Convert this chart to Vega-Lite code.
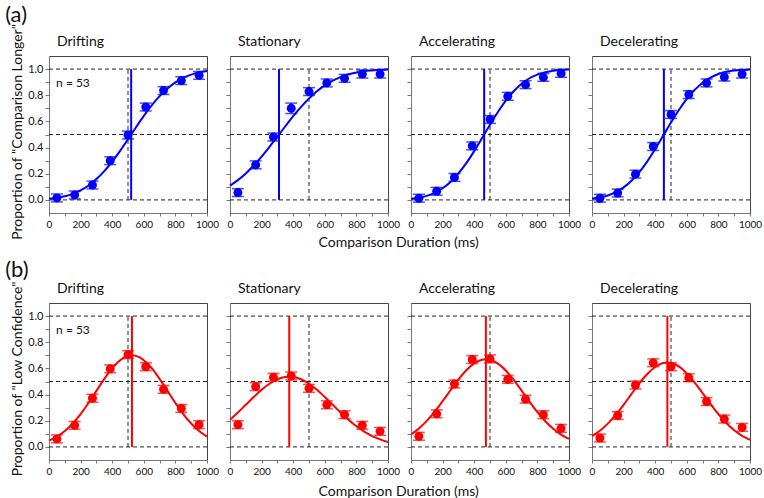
{
"$schema":"https://vega.github.io/schema/vega-lite/v6.json",
"padding":{"left":5,"top":4,"right":0,"bottom":0},
"spacing":9,
"datasets":{
"hl":[{"x":0,"x2":1000,"y":0},{"x":0,"x2":1000,"y":0.5},{"x":0,"x2":1000,"y":1}],
"vl":[{"x":500,"y":0,"y2":1}],
"note":[{"x":45,"y":0.89,"t":"n = 53"}],
"pse":[{"p":"a1","x":520,"y":0,"y2":1},{"p":"a2","x":310,"y":0,"y2":1},{"p":"a3","x":463,"y":0,"y2":1},{"p":"a4","x":455,"y":0,"y2":1},{"p":"b1","x":525,"y":0,"y2":1},{"p":"b2","x":375,"y":0,"y2":1},{"p":"b3","x":474,"y":0,"y2":1},{"p":"b4","x":477,"y":0,"y2":1}],
"pts":[
{"p":"a1","x":50,"y":0.015,"lo":-0.015,"hi":0.045},{"p":"a1","x":162.5,"y":0.038,"lo":0.008,"hi":0.068},{"p":"a1","x":275,"y":0.114,"lo":0.084,"hi":0.144},{"p":"a1","x":387.5,"y":0.3,"lo":0.27,"hi":0.33},{"p":"a1","x":500,"y":0.496,"lo":0.466,"hi":0.526},{"p":"a1","x":612.5,"y":0.71,"lo":0.68,"hi":0.74},{"p":"a1","x":725,"y":0.836,"lo":0.806,"hi":0.866},{"p":"a1","x":837.5,"y":0.912,"lo":0.882,"hi":0.942},{"p":"a1","x":950,"y":0.952,"lo":0.922,"hi":0.982},
{"p":"a2","x":50,"y":0.056,"lo":0.026,"hi":0.086},{"p":"a2","x":162.5,"y":0.268,"lo":0.238,"hi":0.298},{"p":"a2","x":275,"y":0.481,"lo":0.451,"hi":0.511},{"p":"a2","x":387.5,"y":0.7,"lo":0.66,"hi":0.74},{"p":"a2","x":500,"y":0.828,"lo":0.798,"hi":0.858},{"p":"a2","x":612.5,"y":0.894,"lo":0.864,"hi":0.924},{"p":"a2","x":725,"y":0.929,"lo":0.899,"hi":0.959},{"p":"a2","x":837.5,"y":0.962,"lo":0.932,"hi":0.992},{"p":"a2","x":950,"y":0.962,"lo":0.932,"hi":0.992},
{"p":"a3","x":50,"y":0.013,"lo":-0.017,"hi":0.043},{"p":"a3","x":162.5,"y":0.066,"lo":0.036,"hi":0.096},{"p":"a3","x":275,"y":0.172,"lo":0.142,"hi":0.202},{"p":"a3","x":387.5,"y":0.413,"lo":0.383,"hi":0.443},{"p":"a3","x":500,"y":0.615,"lo":0.585,"hi":0.645},{"p":"a3","x":612.5,"y":0.792,"lo":0.762,"hi":0.822},{"p":"a3","x":725,"y":0.881,"lo":0.851,"hi":0.911},{"p":"a3","x":837.5,"y":0.937,"lo":0.907,"hi":0.967},{"p":"a3","x":950,"y":0.967,"lo":0.937,"hi":0.997},
{"p":"a4","x":50,"y":0.013,"lo":-0.017,"hi":0.043},{"p":"a4","x":162.5,"y":0.053,"lo":0.023,"hi":0.083},{"p":"a4","x":275,"y":0.197,"lo":0.167,"hi":0.227},{"p":"a4","x":387.5,"y":0.408,"lo":0.378,"hi":0.438},{"p":"a4","x":500,"y":0.653,"lo":0.623,"hi":0.683},{"p":"a4","x":612.5,"y":0.805,"lo":0.775,"hi":0.835},{"p":"a4","x":725,"y":0.894,"lo":0.864,"hi":0.924},{"p":"a4","x":837.5,"y":0.939,"lo":0.909,"hi":0.969},{"p":"a4","x":950,"y":0.962,"lo":0.932,"hi":0.992},
{"p":"b1","x":50,"y":0.061,"lo":0.031,"hi":0.091},{"p":"b1","x":162.5,"y":0.165,"lo":0.135,"hi":0.195},{"p":"b1","x":275,"y":0.372,"lo":0.342,"hi":0.402},{"p":"b1","x":387.5,"y":0.597,"lo":0.567,"hi":0.627},{"p":"b1","x":500,"y":0.706,"lo":0.676,"hi":0.736},{"p":"b1","x":612.5,"y":0.613,"lo":0.583,"hi":0.643},{"p":"b1","x":725,"y":0.44,"lo":0.41,"hi":0.47},{"p":"b1","x":837.5,"y":0.294,"lo":0.264,"hi":0.324},{"p":"b1","x":950,"y":0.17,"lo":0.14,"hi":0.2},
{"p":"b2","x":50,"y":0.17,"lo":0.14,"hi":0.2},{"p":"b2","x":162.5,"y":0.461,"lo":0.431,"hi":0.491},{"p":"b2","x":275,"y":0.532,"lo":0.502,"hi":0.562},{"p":"b2","x":387.5,"y":0.542,"lo":0.512,"hi":0.572},{"p":"b2","x":500,"y":0.448,"lo":0.418,"hi":0.478},{"p":"b2","x":612.5,"y":0.322,"lo":0.292,"hi":0.352},{"p":"b2","x":725,"y":0.246,"lo":0.216,"hi":0.276},{"p":"b2","x":837.5,"y":0.165,"lo":0.135,"hi":0.195},{"p":"b2","x":950,"y":0.119,"lo":0.089,"hi":0.149},
{"p":"b3","x":50,"y":0.081,"lo":0.051,"hi":0.111},{"p":"b3","x":162.5,"y":0.253,"lo":0.223,"hi":0.283},{"p":"b3","x":275,"y":0.481,"lo":0.451,"hi":0.511},{"p":"b3","x":387.5,"y":0.668,"lo":0.638,"hi":0.698},{"p":"b3","x":500,"y":0.673,"lo":0.643,"hi":0.703},{"p":"b3","x":612.5,"y":0.516,"lo":0.486,"hi":0.546},{"p":"b3","x":725,"y":0.365,"lo":0.335,"hi":0.395},{"p":"b3","x":837.5,"y":0.246,"lo":0.216,"hi":0.276},{"p":"b3","x":950,"y":0.142,"lo":0.112,"hi":0.172},
{"p":"b4","x":50,"y":0.068,"lo":0.038,"hi":0.098},{"p":"b4","x":162.5,"y":0.24,"lo":0.21,"hi":0.27},{"p":"b4","x":275,"y":0.473,"lo":0.443,"hi":0.503},{"p":"b4","x":387.5,"y":0.643,"lo":0.613,"hi":0.673},{"p":"b4","x":500,"y":0.613,"lo":0.583,"hi":0.643},{"p":"b4","x":612.5,"y":0.529,"lo":0.499,"hi":0.559},{"p":"b4","x":725,"y":0.347,"lo":0.317,"hi":0.377},{"p":"b4","x":837.5,"y":0.213,"lo":0.183,"hi":0.243},{"p":"b4","x":950,"y":0.149,"lo":0.119,"hi":0.179}
],
"curve":[
{"p":"a1","x":0,"y":0.009},{"p":"a1","x":50,"y":0.016},{"p":"a1","x":100,"y":0.028},{"p":"a1","x":150,"y":0.046},{"p":"a1","x":200,"y":0.073},{"p":"a1","x":250,"y":0.11},{"p":"a1","x":300,"y":0.159},{"p":"a1","x":350,"y":0.22},{"p":"a1","x":400,"y":0.293},{"p":"a1","x":450,"y":0.375},{"p":"a1","x":500,"y":0.464},{"p":"a1","x":550,"y":0.554},{"p":"a1","x":600,"y":0.642},{"p":"a1","x":650,"y":0.723},{"p":"a1","x":700,"y":0.793},{"p":"a1","x":750,"y":0.852},{"p":"a1","x":800,"y":0.899},{"p":"a1","x":850,"y":0.933},{"p":"a1","x":900,"y":0.958},{"p":"a1","x":950,"y":0.975},{"p":"a1","x":1000,"y":0.985},
{"p":"a2","x":0,"y":0.109},{"p":"a2","x":50,"y":0.151},{"p":"a2","x":100,"y":0.202},{"p":"a2","x":150,"y":0.263},{"p":"a2","x":200,"y":0.331},{"p":"a2","x":250,"y":0.406},{"p":"a2","x":300,"y":0.484},{"p":"a2","x":350,"y":0.563},{"p":"a2","x":400,"y":0.64},{"p":"a2","x":450,"y":0.711},{"p":"a2","x":500,"y":0.775},{"p":"a2","x":550,"y":0.83},{"p":"a2","x":600,"y":0.875},{"p":"a2","x":650,"y":0.911},{"p":"a2","x":700,"y":0.939},{"p":"a2","x":750,"y":0.96},{"p":"a2","x":800,"y":0.974},{"p":"a2","x":850,"y":0.984},{"p":"a2","x":900,"y":0.99},{"p":"a2","x":950,"y":0.995},{"p":"a2","x":1000,"y":0.997},
{"p":"a3","x":0,"y":0.009},{"p":"a3","x":50,"y":0.017},{"p":"a3","x":100,"y":0.031},{"p":"a3","x":150,"y":0.054},{"p":"a3","x":200,"y":0.089},{"p":"a3","x":250,"y":0.137},{"p":"a3","x":300,"y":0.202},{"p":"a3","x":350,"y":0.281},{"p":"a3","x":400,"y":0.373},{"p":"a3","x":450,"y":0.473},{"p":"a3","x":500,"y":0.575},{"p":"a3","x":550,"y":0.672},{"p":"a3","x":600,"y":0.759},{"p":"a3","x":650,"y":0.831},{"p":"a3","x":700,"y":0.888},{"p":"a3","x":750,"y":0.93},{"p":"a3","x":800,"y":0.958},{"p":"a3","x":850,"y":0.976},{"p":"a3","x":900,"y":0.988},{"p":"a3","x":950,"y":0.994},{"p":"a3","x":1000,"y":0.997},
{"p":"a4","x":0,"y":0.01},{"p":"a4","x":50,"y":0.019},{"p":"a4","x":100,"y":0.034},{"p":"a4","x":150,"y":0.059},{"p":"a4","x":200,"y":0.096},{"p":"a4","x":250,"y":0.147},{"p":"a4","x":300,"y":0.213},{"p":"a4","x":350,"y":0.295},{"p":"a4","x":400,"y":0.389},{"p":"a4","x":450,"y":0.49},{"p":"a4","x":500,"y":0.591},{"p":"a4","x":550,"y":0.687},{"p":"a4","x":600,"y":0.772},{"p":"a4","x":650,"y":0.841},{"p":"a4","x":700,"y":0.896},{"p":"a4","x":750,"y":0.935},{"p":"a4","x":800,"y":0.962},{"p":"a4","x":850,"y":0.979},{"p":"a4","x":900,"y":0.989},{"p":"a4","x":950,"y":0.994},{"p":"a4","x":1000,"y":0.997},
{"p":"b1","x":0,"y":0.048},{"p":"b1","x":50,"y":0.078},{"p":"b1","x":100,"y":0.121},{"p":"b1","x":150,"y":0.179},{"p":"b1","x":200,"y":0.251},{"p":"b1","x":250,"y":0.336},{"p":"b1","x":300,"y":0.428},{"p":"b1","x":350,"y":0.52},{"p":"b1","x":400,"y":0.602},{"p":"b1","x":450,"y":0.663},{"p":"b1","x":500,"y":0.696},{"p":"b1","x":525,"y":0.7},{"p":"b1","x":550,"y":0.696},{"p":"b1","x":600,"y":0.663},{"p":"b1","x":650,"y":0.602},{"p":"b1","x":700,"y":0.52},{"p":"b1","x":750,"y":0.428},{"p":"b1","x":800,"y":0.336},{"p":"b1","x":850,"y":0.251},{"p":"b1","x":900,"y":0.179},{"p":"b1","x":950,"y":0.121},{"p":"b1","x":1000,"y":0.078},
{"p":"b2","x":0,"y":0.208},{"p":"b2","x":50,"y":0.263},{"p":"b2","x":100,"y":0.322},{"p":"b2","x":150,"y":0.381},{"p":"b2","x":200,"y":0.437},{"p":"b2","x":250,"y":0.483},{"p":"b2","x":300,"y":0.517},{"p":"b2","x":350,"y":0.535},{"p":"b2","x":375,"y":0.537},{"p":"b2","x":400,"y":0.535},{"p":"b2","x":450,"y":0.517},{"p":"b2","x":500,"y":0.483},{"p":"b2","x":550,"y":0.437},{"p":"b2","x":600,"y":0.381},{"p":"b2","x":650,"y":0.322},{"p":"b2","x":700,"y":0.263},{"p":"b2","x":750,"y":0.208},{"p":"b2","x":800,"y":0.158},{"p":"b2","x":850,"y":0.117},{"p":"b2","x":900,"y":0.083},{"p":"b2","x":950,"y":0.058},{"p":"b2","x":1000,"y":0.038},
{"p":"b3","x":0,"y":0.095},{"p":"b3","x":50,"y":0.141},{"p":"b3","x":100,"y":0.199},{"p":"b3","x":150,"y":0.269},{"p":"b3","x":200,"y":0.349},{"p":"b3","x":250,"y":0.433},{"p":"b3","x":300,"y":0.515},{"p":"b3","x":350,"y":0.586},{"p":"b3","x":400,"y":0.639},{"p":"b3","x":450,"y":0.667},{"p":"b3","x":474,"y":0.67},{"p":"b3","x":500,"y":0.666},{"p":"b3","x":550,"y":0.637},{"p":"b3","x":600,"y":0.584},{"p":"b3","x":650,"y":0.512},{"p":"b3","x":700,"y":0.43},{"p":"b3","x":750,"y":0.346},{"p":"b3","x":800,"y":0.266},{"p":"b3","x":850,"y":0.196},{"p":"b3","x":900,"y":0.139},{"p":"b3","x":950,"y":0.094},{"p":"b3","x":1000,"y":0.061},
{"p":"b4","x":0,"y":0.082},{"p":"b4","x":50,"y":0.124},{"p":"b4","x":100,"y":0.178},{"p":"b4","x":150,"y":0.245},{"p":"b4","x":200,"y":0.322},{"p":"b4","x":250,"y":0.405},{"p":"b4","x":300,"y":0.486},{"p":"b4","x":350,"y":0.557},{"p":"b4","x":400,"y":0.611},{"p":"b4","x":450,"y":0.641},{"p":"b4","x":477,"y":0.645},{"p":"b4","x":500,"y":0.642},{"p":"b4","x":550,"y":0.615},{"p":"b4","x":600,"y":0.562},{"p":"b4","x":650,"y":0.492},{"p":"b4","x":700,"y":0.411},{"p":"b4","x":750,"y":0.329},{"p":"b4","x":800,"y":0.251},{"p":"b4","x":850,"y":0.183},{"p":"b4","x":900,"y":0.128},{"p":"b4","x":950,"y":0.085},{"p":"b4","x":1000,"y":0.054}
]
},
"vconcat":[
{"title":{"text":"(a)","fontSize":22,"dx":-6,"offset":-3,"frame":"bounds"},
 "vconcat":[{"title":{"text":"Comparison Duration (ms)","orient":"bottom","anchor":"middle","frame":"bounds","fontSize":14,"dx":12,"offset":-4},
 "vconcat":[{"title":{"text":"Proportion of \"Comparison Longer\"","orient":"left","anchor":"middle","frame":"bounds","fontSize":14,"dx":0,"offset":2},
 "bounds":"flush","spacing":23,
 "hconcat":[
{"width":158,"height":157,"title":{"text":"Drifting"},
"encoding":{"x":{"field":"x","type":"quantitative","scale":{"domain":[0,1000],"nice":false,"zero":false},"axis":{"title":null,"values":[0,100,200,300,400,500,600,700,800,900,1000],"format":"d","labelExpr":"datum.value % 200 === 0 ? datum.label : ''"}},
"y":{"field":"y","type":"quantitative","scale":{"domain":[-0.1,1.1],"nice":false,"zero":false},"axis":{"title":null,"values":[0,0.1,0.2,0.3,0.4,0.5,0.6,0.7,0.8,0.9,1],"labelExpr":"round(datum.value*10) % 2 === 0 ? format(datum.value,'.1f') : ''"}}},
"layer":[
{"data":{"name":"hl"},"mark":{"type":"rule","color":"#222","strokeDash":[4,3],"strokeWidth":1},"encoding":{"x2":{"field":"x2"}}},
{"data":{"name":"vl"},"mark":{"type":"rule","color":"#222","strokeDash":[4,3],"strokeWidth":1},"encoding":{"y2":{"field":"y2"}}},
{"data":{"name":"pse"},"transform":[{"filter":"datum.p==='a1'"}],"mark":{"type":"rule","color":"#0000ff","strokeWidth":2},"encoding":{"y2":{"field":"y2"}}},
{"data":{"name":"curve"},"transform":[{"filter":"datum.p==='a1'"}],"mark":{"type":"line","color":"#0000ff","strokeWidth":2,"interpolate":"monotone"},"encoding":{}},
{"data":{"name":"pts"},"transform":[{"filter":"datum.p==='a1'"}],"mark":{"type":"rule","color":"#0000ff","strokeWidth":1.5},"encoding":{"y":{"field":"lo","type":"quantitative"},"y2":{"field":"hi"}}},
{"data":{"name":"pts"},"transform":[{"filter":"datum.p==='a1'"}],"mark":{"type":"tick","orient":"horizontal","color":"#0000ff","size":12,"thickness":1.5},"encoding":{"y":{"field":"lo","type":"quantitative"}}},
{"data":{"name":"pts"},"transform":[{"filter":"datum.p==='a1'"}],"mark":{"type":"tick","orient":"horizontal","color":"#0000ff","size":12,"thickness":1.5},"encoding":{"y":{"field":"hi","type":"quantitative"}}},
{"data":{"name":"pts"},"transform":[{"filter":"datum.p==='a1'"}],"mark":{"type":"circle","color":"#0000ff","size":80,"opacity":1},"encoding":{}},
{"data":{"name":"note"},"mark":{"type":"text","align":"left","baseline":"middle","fontSize":12,"font":"Lato","color":"#111"},"encoding":{"text":{"field":"t"}}}
]},
{"width":158,"height":157,"title":{"text":"Stationary"},
"encoding":{"x":{"field":"x","type":"quantitative","scale":{"domain":[0,1000],"nice":false,"zero":false},"axis":{"title":null,"values":[0,100,200,300,400,500,600,700,800,900,1000],"format":"d","labelExpr":"datum.value % 200 === 0 ? datum.label : ''"}},
"y":{"field":"y","type":"quantitative","scale":{"domain":[-0.1,1.1],"nice":false,"zero":false},"axis":{"title":null,"labels":false,"values":[0,0.1,0.2,0.3,0.4,0.5,0.6,0.7,0.8,0.9,1]}}},
"layer":[
{"data":{"name":"hl"},"mark":{"type":"rule","color":"#222","strokeDash":[4,3],"strokeWidth":1},"encoding":{"x2":{"field":"x2"}}},
{"data":{"name":"vl"},"mark":{"type":"rule","color":"#222","strokeDash":[4,3],"strokeWidth":1},"encoding":{"y2":{"field":"y2"}}},
{"data":{"name":"pse"},"transform":[{"filter":"datum.p==='a2'"}],"mark":{"type":"rule","color":"#0000ff","strokeWidth":2},"encoding":{"y2":{"field":"y2"}}},
{"data":{"name":"curve"},"transform":[{"filter":"datum.p==='a2'"}],"mark":{"type":"line","color":"#0000ff","strokeWidth":2,"interpolate":"monotone"},"encoding":{}},
{"data":{"name":"pts"},"transform":[{"filter":"datum.p==='a2'"}],"mark":{"type":"rule","color":"#0000ff","strokeWidth":1.5},"encoding":{"y":{"field":"lo","type":"quantitative"},"y2":{"field":"hi"}}},
{"data":{"name":"pts"},"transform":[{"filter":"datum.p==='a2'"}],"mark":{"type":"tick","orient":"horizontal","color":"#0000ff","size":12,"thickness":1.5},"encoding":{"y":{"field":"lo","type":"quantitative"}}},
{"data":{"name":"pts"},"transform":[{"filter":"datum.p==='a2'"}],"mark":{"type":"tick","orient":"horizontal","color":"#0000ff","size":12,"thickness":1.5},"encoding":{"y":{"field":"hi","type":"quantitative"}}},
{"data":{"name":"pts"},"transform":[{"filter":"datum.p==='a2'"}],"mark":{"type":"circle","color":"#0000ff","size":80,"opacity":1},"encoding":{}}
]},
{"width":158,"height":157,"title":{"text":"Accelerating"},
"encoding":{"x":{"field":"x","type":"quantitative","scale":{"domain":[0,1000],"nice":false,"zero":false},"axis":{"title":null,"values":[0,100,200,300,400,500,600,700,800,900,1000],"format":"d","labelExpr":"datum.value % 200 === 0 ? datum.label : ''"}},
"y":{"field":"y","type":"quantitative","scale":{"domain":[-0.1,1.1],"nice":false,"zero":false},"axis":{"title":null,"labels":false,"values":[0,0.1,0.2,0.3,0.4,0.5,0.6,0.7,0.8,0.9,1]}}},
"layer":[
{"data":{"name":"hl"},"mark":{"type":"rule","color":"#222","strokeDash":[4,3],"strokeWidth":1},"encoding":{"x2":{"field":"x2"}}},
{"data":{"name":"vl"},"mark":{"type":"rule","color":"#222","strokeDash":[4,3],"strokeWidth":1},"encoding":{"y2":{"field":"y2"}}},
{"data":{"name":"pse"},"transform":[{"filter":"datum.p==='a3'"}],"mark":{"type":"rule","color":"#0000ff","strokeWidth":2},"encoding":{"y2":{"field":"y2"}}},
{"data":{"name":"curve"},"transform":[{"filter":"datum.p==='a3'"}],"mark":{"type":"line","color":"#0000ff","strokeWidth":2,"interpolate":"monotone"},"encoding":{}},
{"data":{"name":"pts"},"transform":[{"filter":"datum.p==='a3'"}],"mark":{"type":"rule","color":"#0000ff","strokeWidth":1.5},"encoding":{"y":{"field":"lo","type":"quantitative"},"y2":{"field":"hi"}}},
{"data":{"name":"pts"},"transform":[{"filter":"datum.p==='a3'"}],"mark":{"type":"tick","orient":"horizontal","color":"#0000ff","size":12,"thickness":1.5},"encoding":{"y":{"field":"lo","type":"quantitative"}}},
{"data":{"name":"pts"},"transform":[{"filter":"datum.p==='a3'"}],"mark":{"type":"tick","orient":"horizontal","color":"#0000ff","size":12,"thickness":1.5},"encoding":{"y":{"field":"hi","type":"quantitative"}}},
{"data":{"name":"pts"},"transform":[{"filter":"datum.p==='a3'"}],"mark":{"type":"circle","color":"#0000ff","size":80,"opacity":1},"encoding":{}}
]},
{"width":158,"height":157,"title":{"text":"Decelerating"},
"encoding":{"x":{"field":"x","type":"quantitative","scale":{"domain":[0,1000],"nice":false,"zero":false},"axis":{"title":null,"values":[0,100,200,300,400,500,600,700,800,900,1000],"format":"d","labelExpr":"datum.value % 200 === 0 ? datum.label : ''"}},
"y":{"field":"y","type":"quantitative","scale":{"domain":[-0.1,1.1],"nice":false,"zero":false},"axis":{"title":null,"labels":false,"values":[0,0.1,0.2,0.3,0.4,0.5,0.6,0.7,0.8,0.9,1]}}},
"layer":[
{"data":{"name":"hl"},"mark":{"type":"rule","color":"#222","strokeDash":[4,3],"strokeWidth":1},"encoding":{"x2":{"field":"x2"}}},
{"data":{"name":"vl"},"mark":{"type":"rule","color":"#222","strokeDash":[4,3],"strokeWidth":1},"encoding":{"y2":{"field":"y2"}}},
{"data":{"name":"pse"},"transform":[{"filter":"datum.p==='a4'"}],"mark":{"type":"rule","color":"#0000ff","strokeWidth":2},"encoding":{"y2":{"field":"y2"}}},
{"data":{"name":"curve"},"transform":[{"filter":"datum.p==='a4'"}],"mark":{"type":"line","color":"#0000ff","strokeWidth":2,"interpolate":"monotone"},"encoding":{}},
{"data":{"name":"pts"},"transform":[{"filter":"datum.p==='a4'"}],"mark":{"type":"rule","color":"#0000ff","strokeWidth":1.5},"encoding":{"y":{"field":"lo","type":"quantitative"},"y2":{"field":"hi"}}},
{"data":{"name":"pts"},"transform":[{"filter":"datum.p==='a4'"}],"mark":{"type":"tick","orient":"horizontal","color":"#0000ff","size":12,"thickness":1.5},"encoding":{"y":{"field":"lo","type":"quantitative"}}},
{"data":{"name":"pts"},"transform":[{"filter":"datum.p==='a4'"}],"mark":{"type":"tick","orient":"horizontal","color":"#0000ff","size":12,"thickness":1.5},"encoding":{"y":{"field":"hi","type":"quantitative"}}},
{"data":{"name":"pts"},"transform":[{"filter":"datum.p==='a4'"}],"mark":{"type":"circle","color":"#0000ff","size":80,"opacity":1},"encoding":{}}
]}
]}]}]},
{"title":{"text":"(b)","fontSize":22,"dx":-6,"offset":-1,"frame":"bounds"},
 "vconcat":[{"title":{"text":"Comparison Duration (ms)","orient":"bottom","anchor":"middle","frame":"bounds","fontSize":14,"dx":12,"offset":8},
 "vconcat":[{"title":{"text":"Proportion of \"Low Confidence\"","orient":"left","anchor":"middle","frame":"bounds","fontSize":14,"dx":0,"offset":2},
 "bounds":"flush","spacing":23,
 "hconcat":[
{"width":158,"height":157,"title":{"text":"Drifting"},
"encoding":{"x":{"field":"x","type":"quantitative","scale":{"domain":[0,1000],"nice":false,"zero":false},"axis":{"title":null,"values":[0,100,200,300,400,500,600,700,800,900,1000],"format":"d","labelExpr":"datum.value % 200 === 0 ? datum.label : ''"}},
"y":{"field":"y","type":"quantitative","scale":{"domain":[-0.1,1.1],"nice":false,"zero":false},"axis":{"title":null,"values":[0,0.1,0.2,0.3,0.4,0.5,0.6,0.7,0.8,0.9,1],"labelExpr":"round(datum.value*10) % 2 === 0 ? format(datum.value,'.1f') : ''"}}},
"layer":[
{"data":{"name":"hl"},"mark":{"type":"rule","color":"#222","strokeDash":[4,3],"strokeWidth":1},"encoding":{"x2":{"field":"x2"}}},
{"data":{"name":"vl"},"mark":{"type":"rule","color":"#222","strokeDash":[4,3],"strokeWidth":1},"encoding":{"y2":{"field":"y2"}}},
{"data":{"name":"pse"},"transform":[{"filter":"datum.p==='b1'"}],"mark":{"type":"rule","color":"#ff0000","strokeWidth":2},"encoding":{"y2":{"field":"y2"}}},
{"data":{"name":"curve"},"transform":[{"filter":"datum.p==='b1'"}],"mark":{"type":"line","color":"#ff0000","strokeWidth":2,"interpolate":"monotone"},"encoding":{}},
{"data":{"name":"pts"},"transform":[{"filter":"datum.p==='b1'"}],"mark":{"type":"rule","color":"#ff0000","strokeWidth":1.5},"encoding":{"y":{"field":"lo","type":"quantitative"},"y2":{"field":"hi"}}},
{"data":{"name":"pts"},"transform":[{"filter":"datum.p==='b1'"}],"mark":{"type":"tick","orient":"horizontal","color":"#ff0000","size":12,"thickness":1.5},"encoding":{"y":{"field":"lo","type":"quantitative"}}},
{"data":{"name":"pts"},"transform":[{"filter":"datum.p==='b1'"}],"mark":{"type":"tick","orient":"horizontal","color":"#ff0000","size":12,"thickness":1.5},"encoding":{"y":{"field":"hi","type":"quantitative"}}},
{"data":{"name":"pts"},"transform":[{"filter":"datum.p==='b1'"}],"mark":{"type":"circle","color":"#ff0000","size":80,"opacity":1},"encoding":{}},
{"data":{"name":"note"},"mark":{"type":"text","align":"left","baseline":"middle","fontSize":12,"font":"Lato","color":"#111"},"encoding":{"text":{"field":"t"}}}
]},
{"width":158,"height":157,"title":{"text":"Stationary"},
"encoding":{"x":{"field":"x","type":"quantitative","scale":{"domain":[0,1000],"nice":false,"zero":false},"axis":{"title":null,"values":[0,100,200,300,400,500,600,700,800,900,1000],"format":"d","labelExpr":"datum.value % 200 === 0 ? datum.label : ''"}},
"y":{"field":"y","type":"quantitative","scale":{"domain":[-0.1,1.1],"nice":false,"zero":false},"axis":{"title":null,"labels":false,"values":[0,0.1,0.2,0.3,0.4,0.5,0.6,0.7,0.8,0.9,1]}}},
"layer":[
{"data":{"name":"hl"},"mark":{"type":"rule","color":"#222","strokeDash":[4,3],"strokeWidth":1},"encoding":{"x2":{"field":"x2"}}},
{"data":{"name":"vl"},"mark":{"type":"rule","color":"#222","strokeDash":[4,3],"strokeWidth":1},"encoding":{"y2":{"field":"y2"}}},
{"data":{"name":"pse"},"transform":[{"filter":"datum.p==='b2'"}],"mark":{"type":"rule","color":"#ff0000","strokeWidth":2},"encoding":{"y2":{"field":"y2"}}},
{"data":{"name":"curve"},"transform":[{"filter":"datum.p==='b2'"}],"mark":{"type":"line","color":"#ff0000","strokeWidth":2,"interpolate":"monotone"},"encoding":{}},
{"data":{"name":"pts"},"transform":[{"filter":"datum.p==='b2'"}],"mark":{"type":"rule","color":"#ff0000","strokeWidth":1.5},"encoding":{"y":{"field":"lo","type":"quantitative"},"y2":{"field":"hi"}}},
{"data":{"name":"pts"},"transform":[{"filter":"datum.p==='b2'"}],"mark":{"type":"tick","orient":"horizontal","color":"#ff0000","size":12,"thickness":1.5},"encoding":{"y":{"field":"lo","type":"quantitative"}}},
{"data":{"name":"pts"},"transform":[{"filter":"datum.p==='b2'"}],"mark":{"type":"tick","orient":"horizontal","color":"#ff0000","size":12,"thickness":1.5},"encoding":{"y":{"field":"hi","type":"quantitative"}}},
{"data":{"name":"pts"},"transform":[{"filter":"datum.p==='b2'"}],"mark":{"type":"circle","color":"#ff0000","size":80,"opacity":1},"encoding":{}}
]},
{"width":158,"height":157,"title":{"text":"Accelerating"},
"encoding":{"x":{"field":"x","type":"quantitative","scale":{"domain":[0,1000],"nice":false,"zero":false},"axis":{"title":null,"values":[0,100,200,300,400,500,600,700,800,900,1000],"format":"d","labelExpr":"datum.value % 200 === 0 ? datum.label : ''"}},
"y":{"field":"y","type":"quantitative","scale":{"domain":[-0.1,1.1],"nice":false,"zero":false},"axis":{"title":null,"labels":false,"values":[0,0.1,0.2,0.3,0.4,0.5,0.6,0.7,0.8,0.9,1]}}},
"layer":[
{"data":{"name":"hl"},"mark":{"type":"rule","color":"#222","strokeDash":[4,3],"strokeWidth":1},"encoding":{"x2":{"field":"x2"}}},
{"data":{"name":"vl"},"mark":{"type":"rule","color":"#222","strokeDash":[4,3],"strokeWidth":1},"encoding":{"y2":{"field":"y2"}}},
{"data":{"name":"pse"},"transform":[{"filter":"datum.p==='b3'"}],"mark":{"type":"rule","color":"#ff0000","strokeWidth":2},"encoding":{"y2":{"field":"y2"}}},
{"data":{"name":"curve"},"transform":[{"filter":"datum.p==='b3'"}],"mark":{"type":"line","color":"#ff0000","strokeWidth":2,"interpolate":"monotone"},"encoding":{}},
{"data":{"name":"pts"},"transform":[{"filter":"datum.p==='b3'"}],"mark":{"type":"rule","color":"#ff0000","strokeWidth":1.5},"encoding":{"y":{"field":"lo","type":"quantitative"},"y2":{"field":"hi"}}},
{"data":{"name":"pts"},"transform":[{"filter":"datum.p==='b3'"}],"mark":{"type":"tick","orient":"horizontal","color":"#ff0000","size":12,"thickness":1.5},"encoding":{"y":{"field":"lo","type":"quantitative"}}},
{"data":{"name":"pts"},"transform":[{"filter":"datum.p==='b3'"}],"mark":{"type":"tick","orient":"horizontal","color":"#ff0000","size":12,"thickness":1.5},"encoding":{"y":{"field":"hi","type":"quantitative"}}},
{"data":{"name":"pts"},"transform":[{"filter":"datum.p==='b3'"}],"mark":{"type":"circle","color":"#ff0000","size":80,"opacity":1},"encoding":{}}
]},
{"width":158,"height":157,"title":{"text":"Decelerating"},
"encoding":{"x":{"field":"x","type":"quantitative","scale":{"domain":[0,1000],"nice":false,"zero":false},"axis":{"title":null,"values":[0,100,200,300,400,500,600,700,800,900,1000],"format":"d","labelExpr":"datum.value % 200 === 0 ? datum.label : ''"}},
"y":{"field":"y","type":"quantitative","scale":{"domain":[-0.1,1.1],"nice":false,"zero":false},"axis":{"title":null,"labels":false,"values":[0,0.1,0.2,0.3,0.4,0.5,0.6,0.7,0.8,0.9,1]}}},
"layer":[
{"data":{"name":"hl"},"mark":{"type":"rule","color":"#222","strokeDash":[4,3],"strokeWidth":1},"encoding":{"x2":{"field":"x2"}}},
{"data":{"name":"vl"},"mark":{"type":"rule","color":"#222","strokeDash":[4,3],"strokeWidth":1},"encoding":{"y2":{"field":"y2"}}},
{"data":{"name":"pse"},"transform":[{"filter":"datum.p==='b4'"}],"mark":{"type":"rule","color":"#ff0000","strokeWidth":2},"encoding":{"y2":{"field":"y2"}}},
{"data":{"name":"curve"},"transform":[{"filter":"datum.p==='b4'"}],"mark":{"type":"line","color":"#ff0000","strokeWidth":2,"interpolate":"monotone"},"encoding":{}},
{"data":{"name":"pts"},"transform":[{"filter":"datum.p==='b4'"}],"mark":{"type":"rule","color":"#ff0000","strokeWidth":1.5},"encoding":{"y":{"field":"lo","type":"quantitative"},"y2":{"field":"hi"}}},
{"data":{"name":"pts"},"transform":[{"filter":"datum.p==='b4'"}],"mark":{"type":"tick","orient":"horizontal","color":"#ff0000","size":12,"thickness":1.5},"encoding":{"y":{"field":"lo","type":"quantitative"}}},
{"data":{"name":"pts"},"transform":[{"filter":"datum.p==='b4'"}],"mark":{"type":"tick","orient":"horizontal","color":"#ff0000","size":12,"thickness":1.5},"encoding":{"y":{"field":"hi","type":"quantitative"}}},
{"data":{"name":"pts"},"transform":[{"filter":"datum.p==='b4'"}],"mark":{"type":"circle","color":"#ff0000","size":80,"opacity":1},"encoding":{}}
]}
]}]}]}
],
"config":{
"font":"Lato",
"view":{"stroke":"#444","strokeWidth":1},
"axis":{"domainColor":"#777","domainWidth":1,"tickColor":"#777","labelFont":"Lato","labelFontSize":10,"labelColor":"#111","titleFont":"Lato","titleFontSize":13,"titleFontWeight":"normal","titleColor":"#111","grid":false,"labelPadding":2,"titlePadding":5},
"axisX":{"tickSize":3,"labelPadding":3,"labelFlush":false,"labelOverlap":false},
"axisY":{"tickSize":4,"labelFontSize":11},
"title":{"font":"Lato","fontWeight":"normal","fontSize":14,"color":"#111","anchor":"start","frame":"group","dx":8,"offset":7}
}
}
